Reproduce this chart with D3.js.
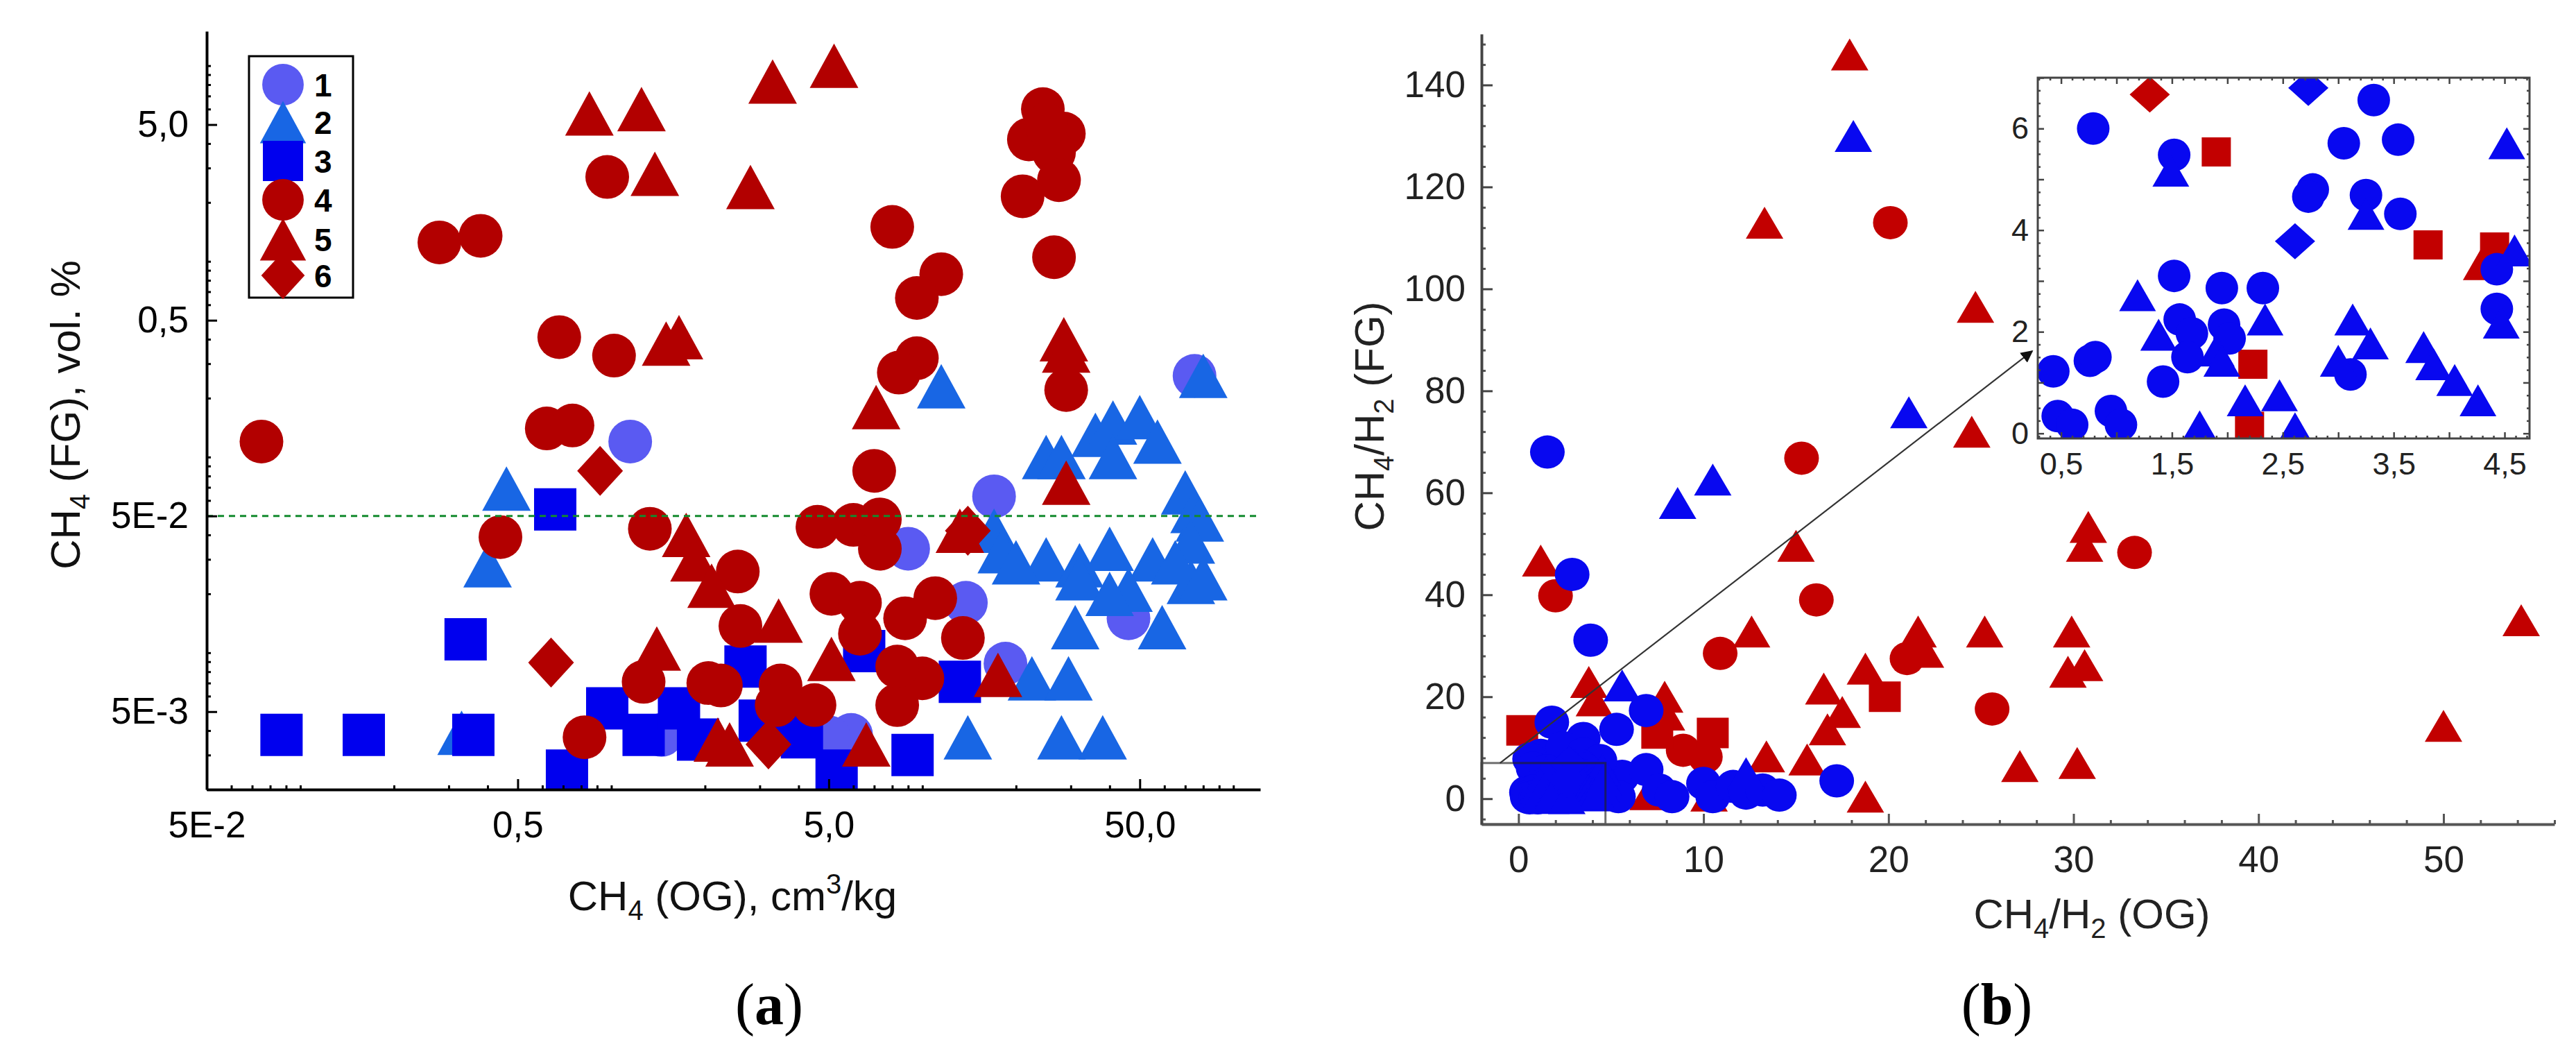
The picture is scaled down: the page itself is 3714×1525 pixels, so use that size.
<!DOCTYPE html>
<html>
<head>
<meta charset="utf-8">
<script src="https://cdn.jsdelivr.net/npm/d3@7"></script>
<style>
  body { margin: 0; background: #fff; }
  svg text { font-family: "Liberation Sans", Arial, sans-serif; }
</style>
</head>
<body>
<svg id="chart" width="3714" height="1525"></svg>
<script>
// ---- panel (a): CH4 OG vs CH4 FG, log-log ----
const aCircleLight = [[1.15,0.12],[17,0.063],[75,0.26],[9,0.034],[13.8,0.018],[18.5,0.0088],[46,0.015],[5.9,0.0038],[1.45,0.0038],[5,0.0037]];
const aTriBlue = [[0.46,0.069],[0.4,0.028],[0.33,0.0039],[11.5,0.23],[80,0.26],[25,0.1],[28,0.1],[36,0.13],[41,0.15],[50,0.16],[57,0.12],[41,0.1],
  [70,0.066],[75,0.053],[78,0.048],[17,0.042],[18,0.033],[25,0.03],[32,0.028],[40,0.034],[55,0.03],[73,0.037],[73,0.023],[32,0.024],[46,0.021],
  [40,0.02],[31,0.0135],[59,0.0135],[22.5,0.0074],[29.5,0.0074],[14,0.0037],[28,0.0037],[38,0.0037],[20,0.029],[65,0.029],[80,0.024]];
const aSquareBlue = [[0.087,0.0038],[0.16,0.0038],[0.36,0.0038],[0.34,0.0117],[0.66,0.054],[0.72,0.0025],[0.97,0.0052],[1.27,0.0038],[1.65,0.0052],
  [1.9,0.0036],[2.7,0.0085],[3.0,0.0045],[3.8,0.0042],[4.1,0.0037],[5.3,0.0025],[9.3,0.003],[13.2,0.0071],[6.5,0.0102]];
const aCircleRed = [[0.075,0.12],[0.28,1.25],[0.38,1.35],[0.68,0.41],[1.02,0.33],[0.97,2.7],[0.62,0.14],[0.75,0.145],[0.44,0.039],[8,1.5],[11.5,0.86],
  [9.6,0.65],[9.6,0.32],[8.4,0.27],[24.4,6.0],[28.5,4.5],[22,4.2],[26.5,3.6],[27.5,2.6],[21,2.15],[25,5.0],[26.5,1.05],[29,0.22],[0.82,0.0037],
  [7,0.085],[1.33,0.043],[4.6,0.044],[6,0.045],[7,0.043],[7.3,0.034],[2.55,0.026],[5.1,0.02],[6.3,0.018],[11,0.019],[2.6,0.0137],[13.5,0.0119],
  [1.27,0.0071],[2.05,0.007],[2.25,0.0068],[3.5,0.0068],[4.5,0.0054],[3.4,0.0054],[8.3,0.0054],[10,0.0074],[8.3,0.0085],[6.3,0.0125],[8.8,0.015],[7.3,0.048]];
const aTriRed = [[0.85,5.7],[1.25,6.0],[1.38,2.8],[2.8,2.4],[3.3,8.3],[5.2,10],[1.5,0.38],[1.65,0.41],[7.1,0.18],[28.5,0.4],[29,0.35],[29,0.074],
  [1.74,0.04],[1.85,0.03],[2.1,0.022],[3.45,0.0146],[1.4,0.0105],[2.2,0.0036],[2.4,0.0034],[5.1,0.0093],[6.6,0.0034],[13.2,0.042],[17.5,0.0077]];
const aDiamondRed = [[0.92,0.085],[0.64,0.0089],[3.2,0.0034],[14,0.042]];

const aXTicks = [0.05, 0.5, 5, 50];
const aXTickLabels = ['5E-2', '0,5', '5,0', '50,0'];
const aYTicks = [0.005, 0.05, 0.5, 5];
const aYTickLabels = ['5E-3', '5E-2', '0,5', '5,0'];
const aLegend = ['1', '2', '3', '4', '5', '6'];

// ---- panel (b): CH4/H2 OG vs FG ----
const bRedTri = [[17.9,146],[13.3,113],[24.7,96.5],[24.5,72],[15,49.6],[1.2,46.7],[30.8,53.3],[30.6,49.6],[29.9,32.8],[29.7,24.9],[30.6,26.2],
  [30.2,7],[25.2,32.8],[27.1,6.4],[21.6,32.8],[22,28.8],[18.75,25.5],[16.5,21.6],[17.5,17],[16.7,13.6],[18.75,0.4],[12.6,32.8],[13.4,8.3],
  [3.8,22.9],[4.1,19.3],[7.9,20],[8,16.5],[50,14.3],[54.2,35],[15.6,7.7],[7,0.9],[10.3,0.6]];
const bRedCircle = [[20.1,113],[15.3,66.8],[33.3,48.3],[16.1,39],[2,39.8],[10.9,28.5],[21,27.5],[25.6,17.6],[8.9,9.5],[10.1,8.2]];
const bRedSquare = [[0.2,13.4],[10.5,12.9],[19.8,20],[7.5,12.8]];
const bBlueCircle = [[1.56,68],[2.9,44],[3.9,31.1],[6.9,17.3],[1.8,15],[5.3,13.6],[3.5,11.8],[17.2,3.5],[5.6,4.4],[6.9,5.7],[7.6,1.7],[8.3,0.4],
  [10,3],[10.5,0.4],[11.6,2.4],[12.3,1.1],[13.2,1.7],[14.1,0.7],[5.4,0.4],[1.2,8.5],[2.4,10],[3.5,8.8],[4.4,7.5],[0.6,7.8]];
const bBlueTri = [[18.1,130],[21.1,75.8],[10.5,62.6],[8.6,58],[5.6,22.2],[12.3,5]];

// inset (zoom of 0..4.7 x 0..7)
const insBlueCircle = [[0.79,6.0],[1.52,5.48],[3.05,5.71],[3.32,6.56],[3.54,5.78],[2.77,4.8],[2.73,4.66],[3.25,4.69],[3.56,4.32],[4.43,3.23],
  [4.43,2.45],[1.52,3.1],[1.95,2.86],[2.32,2.86],[1.57,2.24],[1.68,1.97],[1.64,1.5],[1.97,2.14],[2.02,1.87],[1.42,1.02],[0.43,1.22],[0.76,1.43],
  [0.81,1.5],[0.47,0.34],[0.6,0.17],[0.95,0.44],[1.04,0.17],[3.11,1.16]];
const insBlueTri = [[1.49,5.17],[4.52,5.71],[3.25,4.32],[1.19,2.72],[2.34,2.24],[3.13,2.24],[3.29,1.77],[1.38,1.94],[1.9,1.63],[1.95,1.43],[3.0,1.43],
  [3.77,1.7],[3.86,1.36],[4.05,1.05],[4.26,0.65],[4.47,2.18],[4.59,3.6],[2.16,0.65],[2.47,0.75],[1.75,0.14],[2.61,0.1]];
const insBlueDiamond = [[2.73,6.8],[2.61,3.78]];
const insRedDiamond = [[1.3,6.67]];
const insRedSquare = [[1.9,5.54],[3.81,3.71],[2.23,1.36],[2.2,0.14],[4.41,3.67]];
const insRedTri = [[4.29,3.33]];

const bXTicks = [0, 10, 20, 30, 40, 50];
const bYTicks = [0, 20, 40, 60, 80, 100, 120, 140];
const insXTicks = [0.5, 1.5, 2.5, 3.5, 4.5];
const insXTickLabels = ['0,5', '1,5', '2,5', '3,5', '4,5'];
const insYTicks = [0, 2, 4, 6];

// ---- drawing ----
const svg = d3.select('#chart');
const RED_A = '#b20000', RED_B = '#c20000', BLUE_B = '#0808f0';
const COL_A = { c1: '#5a5af2', c2: '#1866e4', c3: '#0000ee' };

const sizeA = { circle: [63, 63], triangle: [70, 64], square: [61, 61], diamond: [66, 72] };
const sizeB = { circle: [50, 48], triangle: [54, 46], square: [46, 44], diamond: [56, 52] };
const sizeI = { circle: [47, 47], triangle: [53, 46], square: [42, 42], diamond: [58, 52] };

function markPath(type, w, h) {
  const a = w / 2, b = h / 2;
  if (type === 'circle') return `M${-a},0A${a},${b} 0 1,0 ${a},0A${a},${b} 0 1,0 ${-a},0Z`;
  if (type === 'square') return `M${-a},${-b}H${a}V${b}H${-a}Z`;
  if (type === 'triangle') return `M0,${-b}L${a},${b}L${-a},${b}Z`;
  return `M0,${-b}L${a},0L0,${b}L${-a},0Z`;
}

function plotMarks(g, data, x, y, type, size, color) {
  const [w, h] = size[type];
  g.append('g').selectAll('path').data(data).join('path')
    .attr('d', markPath(type, w, h))
    .attr('transform', d => `translate(${x(d[0])},${y(d[1])})`)
    .attr('fill', color);
}

function styleAxis(g, color, width, font, textColor) {
  g.attr('font-size', null).attr('font-family', null);
  g.select('.domain').attr('stroke', color).attr('stroke-width', width);
  g.selectAll('.tick line').attr('stroke', color).attr('stroke-width', width - 1);
  g.selectAll('.tick text').attr('fill', textColor).style('font-size', font + 'px');
}

function minorAxis(g, axis, color, width) {
  g.call(axis.tickFormat('').tickSizeOuter(0));
  g.select('.domain').remove();
  g.selectAll('text').remove();
  g.selectAll('line').attr('stroke', color).attr('stroke-width', width);
  return g;
}

// text with sub/superscripts: parts = [text, 'sub' | 'sup' | null]
function subText(sel, parts, small) {
  let pending = 0;
  parts.forEach(([t, kind]) => {
    const span = sel.append('tspan').text(t);
    if (kind) {
      const sh = kind === 'sub' ? small * 0.35 : -small * 0.6;
      span.attr('dy', sh + pending).style('font-size', small + 'px');
      pending = -sh;
    } else if (pending) {
      span.attr('dy', pending);
      pending = 0;
    }
  });
}

// ===== panel (a) =====
const xA = d3.scaleLog().domain([0.05, 122]).range([298, 1817]);
const yA = d3.scaleLog().domain([0.002, 15]).range([1138, 45]);

svg.append('clipPath').attr('id', 'clipA').append('rect')
  .attr('x', 298).attr('y', 45).attr('width', 1817 - 298).attr('height', 1138 - 45);

const gA = svg.append('g').attr('clip-path', 'url(#clipA)');
plotMarks(gA, aCircleLight, xA, yA, 'circle', sizeA, COL_A.c1);
plotMarks(gA, aTriBlue, xA, yA, 'triangle', sizeA, COL_A.c2);
plotMarks(gA, aSquareBlue, xA, yA, 'square', sizeA, COL_A.c3);
plotMarks(gA, aCircleRed, xA, yA, 'circle', sizeA, RED_A);
plotMarks(gA, aTriRed, xA, yA, 'triangle', sizeA, RED_A);
plotMarks(gA, aDiamondRed, xA, yA, 'diamond', sizeA, RED_A);

svg.append('line')
  .attr('x1', xA(0.05)).attr('x2', xA.range()[1])
  .attr('y1', yA(0.05)).attr('y2', yA(0.05))
  .attr('stroke', '#138a2e').attr('stroke-width', 3).attr('stroke-dasharray', '9,7');

const aXMinor = xA.ticks().filter(v => !aXTicks.some(t => Math.abs(t - v) < 1e-9));
const aYMinor = yA.ticks().filter(v => !aYTicks.some(t => Math.abs(t - v) < 1e-9));

minorAxis(svg.append('g').attr('transform', 'translate(0,1138)'),
  d3.axisBottom(xA).tickValues(aXMinor).tickSize(-6), '#000', 3);
minorAxis(svg.append('g').attr('transform', 'translate(298,0)'),
  d3.axisLeft(yA).tickValues(aYMinor).tickSize(-6), '#000', 3);

const axAx = svg.append('g').attr('transform', 'translate(0,1138)')
  .call(d3.axisBottom(xA).tickValues(aXTicks).tickFormat((d, i) => aXTickLabels[i])
    .tickSize(-15).tickSizeOuter(0).tickPadding(31));
styleAxis(axAx, '#000', 4, 53, '#000');
const axAy = svg.append('g').attr('transform', 'translate(298,0)')
  .call(d3.axisLeft(yA).tickValues(aYTicks).tickFormat((d, i) => aYTickLabels[i])
    .tickSize(-15).tickSizeOuter(0).tickPadding(26));
styleAxis(axAy, '#000', 4, 53, '#000');

// legend
const legRows = [122, 176, 232, 288, 345, 397];
const legTypes = [['circle', COL_A.c1], ['triangle', COL_A.c2], ['square', COL_A.c3],
                  ['circle', RED_A], ['triangle', RED_A], ['diamond', RED_A]];
const legG = svg.append('g');
legG.append('rect').attr('x', 359).attr('y', 81).attr('width', 150).attr('height', 348)
  .attr('fill', '#fff').attr('stroke', '#000').attr('stroke-width', 3);
aLegend.forEach((lab, i) => {
  const [type, col] = legTypes[i];
  const [w, h] = sizeA[type];
  legG.append('path').attr('d', markPath(type, w * 0.95, h * 0.95))
    .attr('transform', `translate(408,${legRows[i]})`).attr('fill', col);
  legG.append('text').attr('x', 453).attr('y', legRows[i]).attr('dy', '0.36em')
    .style('font-size', '46px').style('font-weight', 'bold').text(lab);
});

// axis titles (a)
const tAx = svg.append('text').attr('x', 1056).attr('y', 1312).attr('text-anchor', 'middle')
  .style('font-size', '60px').attr('fill', '#111');
subText(tAx, [['CH', null], ['4', 'sub'], [' (OG), cm', null], ['3', 'sup'], ['/kg', null]], 40);
const tAy = svg.append('text').attr('transform', 'translate(115,598) rotate(-90)').attr('text-anchor', 'middle')
  .style('font-size', '60px').attr('fill', '#111');
subText(tAy, [['CH', null], ['4', 'sub'], [' (FG), vol. %', null]], 40);

// ===== panel (b) =====
const xB = d3.scaleLinear().domain([-2, 56]).range([2136, 3683]);
const yB = d3.scaleLinear().domain([-5, 150]).range([1188, 49]);

svg.append('clipPath').attr('id', 'clipB').append('rect')
  .attr('x', 2136).attr('y', 20).attr('width', 3683 - 2136).attr('height', 1188 - 20);
const gB = svg.append('g').attr('clip-path', 'url(#clipB)');
plotMarks(gB, bRedTri, xB, yB, 'triangle', sizeB, RED_B);
plotMarks(gB, bRedCircle, xB, yB, 'circle', sizeB, RED_B);
plotMarks(gB, bRedSquare, xB, yB, 'square', sizeB, RED_B);
plotMarks(gB, insRedSquare, xB, yB, 'square', sizeB, RED_B);
plotMarks(gB, insRedTri, xB, yB, 'triangle', sizeB, RED_B);
plotMarks(gB, insRedDiamond, xB, yB, 'diamond', sizeB, RED_B);
plotMarks(gB, bBlueCircle, xB, yB, 'circle', sizeB, BLUE_B);
plotMarks(gB, bBlueTri, xB, yB, 'triangle', sizeB, BLUE_B);
plotMarks(gB, insBlueCircle, xB, yB, 'circle', sizeB, BLUE_B);
plotMarks(gB, insBlueTri, xB, yB, 'triangle', sizeB, BLUE_B);
plotMarks(gB, insBlueDiamond, xB, yB, 'diamond', sizeB, BLUE_B);

// zoom rectangle over the cluster near the origin
svg.append('rect')
  .attr('x', xB(-2)).attr('y', yB(7))
  .attr('width', xB(4.7) - xB(-2)).attr('height', yB(-5) - yB(7))
  .attr('fill', 'none').attr('stroke', '#222').attr('stroke-width', 3).attr('opacity', 0.65);

const bXMinor = d3.range(-2, 57, 2).filter(v => !bXTicks.includes(v));
const bYMinor = d3.range(-4, 151, 4).filter(v => !bYTicks.includes(v));
minorAxis(svg.append('g').attr('transform', 'translate(0,1188)'),
  d3.axisBottom(xB).tickValues(bXMinor).tickSize(-6), '#555', 3);
minorAxis(svg.append('g').attr('transform', 'translate(2136,0)'),
  d3.axisLeft(yB).tickValues(bYMinor).tickSize(-6), '#555', 3);

const axBx = svg.append('g').attr('transform', 'translate(0,1188)')
  .call(d3.axisBottom(xB).tickValues(bXTicks).tickSize(-15).tickSizeOuter(0).tickPadding(31));
styleAxis(axBx, '#555', 4, 53, '#222');
const axBy = svg.append('g').attr('transform', 'translate(2136,0)')
  .call(d3.axisLeft(yB).tickValues(bYTicks).tickSize(-16).tickSizeOuter(0).tickPadding(23));
styleAxis(axBy, '#444', 4, 53, '#222');

// inset
const xI = d3.scaleLinear().domain([0.29, 4.725]).range([2938, 3647]);
const yI = d3.scaleLinear().domain([-0.1, 7]).range([632, 112]);
const [iL, iR] = xI.range(), [iB, iT] = yI.range();

// arrow from zoom rectangle to inset
svg.append('defs').append('marker').attr('id', 'arrowHead')
  .attr('viewBox', '0 0 10 10').attr('refX', 9).attr('refY', 5)
  .attr('markerWidth', 8).attr('markerHeight', 8).attr('orient', 'auto')
  .append('path').attr('d', 'M0,0L10,5L0,10Z').attr('fill', '#111');
svg.append('line')
  .attr('x1', xB(-1)).attr('y1', yB(7))
  .attr('x2', iL - 8).attr('y2', yI(1.62))
  .attr('stroke', '#333').attr('stroke-width', 2.2).attr('marker-end', 'url(#arrowHead)');

svg.append('rect').attr('x', iL).attr('y', iT).attr('width', iR - iL).attr('height', iB - iT)
  .attr('fill', '#fff');
svg.append('clipPath').attr('id', 'clipI').append('rect')
  .attr('x', iL).attr('y', iT).attr('width', iR - iL).attr('height', iB - iT);
const gI = svg.append('g').attr('clip-path', 'url(#clipI)');
plotMarks(gI, insRedSquare, xI, yI, 'square', sizeI, RED_B);
plotMarks(gI, insRedTri, xI, yI, 'triangle', sizeI, RED_B);
plotMarks(gI, insRedDiamond, xI, yI, 'diamond', sizeI, RED_B);
plotMarks(gI, insBlueCircle, xI, yI, 'circle', sizeI, BLUE_B);
plotMarks(gI, insBlueTri, xI, yI, 'triangle', sizeI, BLUE_B);
plotMarks(gI, insBlueDiamond, xI, yI, 'diamond', sizeI, BLUE_B);

// inset ticks on all four sides, pointing inward
const insXMajor = d3.range(1, 10).map(i => i / 2);
const insXMinor = d3.range(3, 48).map(i => i / 10).filter(v => Math.abs(v * 2 - Math.round(v * 2)) > 1e-6);
const insYMajor = d3.range(0, 8);
const insYMinor = d3.range(0, 28).map(i => i / 4).filter(v => v % 1 !== 0);
[[d3.axisBottom, iB], [d3.axisTop, iT]].forEach(([mk, yy]) => {
  minorAxis(svg.append('g').attr('transform', `translate(0,${yy})`),
    mk(xI).tickValues(insXMinor).tickSize(-4), '#444', 2.5);
  minorAxis(svg.append('g').attr('transform', `translate(0,${yy})`),
    mk(xI).tickValues(insXMajor).tickSize(-9), '#444', 2.5);
});
[[d3.axisLeft, iL], [d3.axisRight, iR]].forEach(([mk, xx]) => {
  minorAxis(svg.append('g').attr('transform', `translate(${xx},0)`),
    mk(yI).tickValues(insYMinor).tickSize(-4), '#444', 2.5);
  minorAxis(svg.append('g').attr('transform', `translate(${xx},0)`),
    mk(yI).tickValues(insYMajor).tickSize(-9), '#444', 2.5);
});
svg.append('rect').attr('x', iL).attr('y', iT).attr('width', iR - iL).attr('height', iB - iT)
  .attr('fill', 'none').attr('stroke', '#444').attr('stroke-width', 3);

const axIx = svg.append('g').attr('transform', `translate(0,${iB})`)
  .call(d3.axisBottom(xI).tickValues(insXTicks).tickFormat((d, i) => insXTickLabels[i])
    .tickSize(0).tickSizeOuter(0).tickPadding(20));
styleAxis(axIx, '#444', 3, 45, '#222');
axIx.select('.domain').remove();
const axIy = svg.append('g').attr('transform', `translate(${iL},0)`)
  .call(d3.axisLeft(yI).tickValues(insYTicks).tickSize(0).tickSizeOuter(0).tickPadding(13));
styleAxis(axIy, '#444', 3, 45, '#222');
axIy.select('.domain').remove();

// axis titles (b)
const tBx = svg.append('text').attr('x', 3016).attr('y', 1338).attr('text-anchor', 'middle')
  .style('font-size', '60px').attr('fill', '#222');
subText(tBx, [['CH', null], ['4', 'sub'], ['/H', null], ['2', 'sub'], [' (OG)', null]], 40);
const tBy = svg.append('text').attr('transform', 'translate(1995,600) rotate(-90)').attr('text-anchor', 'middle')
  .style('font-size', '60px').attr('fill', '#222');
subText(tBy, [['CH', null], ['4', 'sub'], ['/H', null], ['2', 'sub'], [' (FG)', null]], 40);

// panel captions
[['a', 1109], ['b', 2879]].forEach(([lab, x]) => {
  const t = svg.append('text').attr('x', x).attr('y', 1476).attr('text-anchor', 'middle')
    .style('font-family', '"Liberation Serif", "DejaVu Serif", serif').style('font-size', '84px').attr('fill', '#000');
  t.append('tspan').text('(');
  t.append('tspan').style('font-weight', 'bold').text(lab);
  t.append('tspan').text(')');
});
</script>
</body>
</html>
